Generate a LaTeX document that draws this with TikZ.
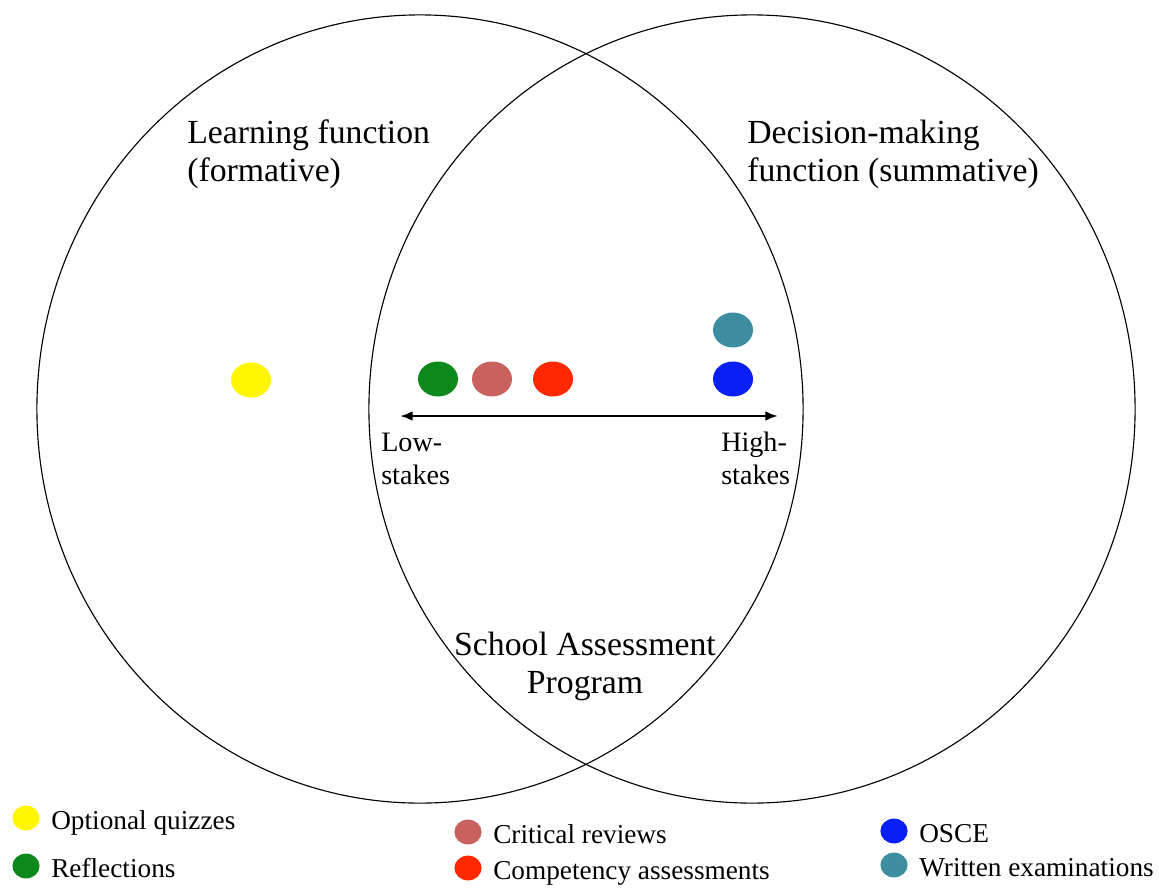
\documentclass[tikz,border=0pt]{standalone}
\usepackage{fontspec}
\setmainfont{Liberation Serif}
\usetikzlibrary{shapes.geometric,arrows.meta}

\definecolor{quizyellow}{RGB}{255,246,0}
\definecolor{reflgreen}{RGB}{12,136,28}
\definecolor{critrose}{RGB}{201,98,94}
\definecolor{compred}{RGB}{255,40,0}
\definecolor{osceblue}{RGB}{8,32,245}
\definecolor{examteal}{RGB}{60,142,160}

\begin{document}
\begin{tikzpicture}[x=0.025cm,y=-0.025cm]
		\tikzset{venn/.style = {shape=ellipse, draw, line width=0.8pt, inner sep=0pt, minimum width=19.15cm, minimum height=19.7cm},
		dot/.style = {shape=ellipse, inner sep=0pt, minimum width=1cm, minimum height=0.875cm},
		key/.style = {shape=ellipse, inner sep=0pt, minimum width=0.68cm, minimum height=0.62cm},
		keytext/.style = {font=\fontsize{19.4}{23}\selectfont, text height=16pt, text depth=0pt, xshift=0.16cm},
		heading/.style = {font=\fontsize{24}{27}\selectfont, align=left, inner sep=0pt},
		stakes/.style = {font=\fontsize{20}{23}\selectfont, align=left, inner sep=0pt}}

		\useasboundingbox (0,0) rectangle (1159,889);

		\node[venn] (learn_c) at (420,409) {};
		\node[venn] (decide_c) at (752,409) {};

		\node[heading, anchor=base west] (learn_t) at (187,181) {Learning function\\(formative)};
		\node[heading, anchor=base west] (decide_t) at (747,181) {Decision-making\\function (summative)};
		\node[heading, align=center, anchor=base] (school_t) at (585,693) {School Assessment\\Program};

		\node[dot, fill=quizyellow] (D_1) at (251,380) {};
		\node[dot, fill=reflgreen] (D_2) at (438,379) {};
		\node[dot, fill=critrose] (D_3) at (492,379) {};
		\node[dot, fill=compred] (D_4) at (553,379) {};
		\node[dot, fill=osceblue] (D_5) at (733,379) {};
		\node[dot, fill=examteal] (D_6) at (733,330) {};

		\coordinate (low) at (400,416);
		\coordinate (high) at (778,416);
		\draw[line width=2pt, {Latex[length=9pt,width=7pt]}-{Latex[length=9pt,width=7pt]}] (low) -- (high);

		\node[stakes, anchor=base west] (low_t) at (381,484) {Low-\\stakes};
		\node[stakes, anchor=base west] (high_t) at (721,484) {High-\\stakes};

		\node[key, fill=quizyellow, label={[keytext]right:Optional quizzes}] (K_1) at (26,818) {};
		\node[key, fill=reflgreen, label={[keytext]right:Reflections}] (K_2) at (26,866) {};
		\node[key, fill=critrose, label={[keytext]right:Critical reviews}] (K_3) at (468,832) {};
		\node[key, fill=compred, label={[keytext]right:Competency assessments}] (K_4) at (468,868) {};
		\node[key, fill=osceblue, label={[keytext]right:OSCE}] (K_5) at (894,831) {};
		\node[key, fill=examteal, label={[keytext]right:Written examinations}] (K_6) at (894,865) {};

	\end{tikzpicture}
\end{document}
